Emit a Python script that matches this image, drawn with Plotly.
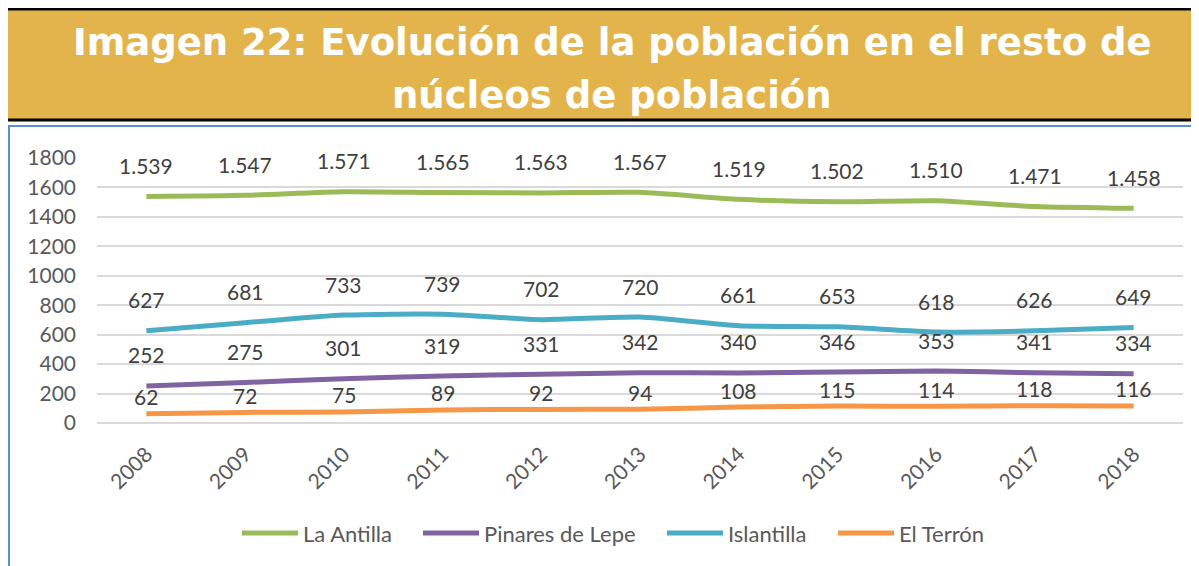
import plotly.graph_objects as go

years = ["2008", "2009", "2010", "2011", "2012", "2013", "2014", "2015", "2016", "2017", "2018"]
la_antilla = [1539, 1547, 1571, 1565, 1563, 1567, 1519, 1502, 1510, 1471, 1458]
pinares = [252, 275, 301, 319, 331, 342, 340, 346, 353, 341, 334]
islantilla = [627, 681, 733, 739, 702, 720, 661, 653, 618, 626, 649]
el_terron = [62, 72, 75, 89, 92, 94, 108, 115, 114, 118, 116]

series = [
    ("La Antilla", la_antilla, "#9BBB59", 31),
    ("Pinares de Lepe", pinares, "#8064A2", 31),
    ("Islantilla", islantilla, "#4BACC6", 31),
    ("El Terrón", el_terron, "#F79646", 17),
]
# x start of each legend entry (page pixels)
legend_x = [242, 423, 667, 838]

FONT = "Lato"
OFF = 8  # page body margin
W, H = 1199 - OFF, 566 - OFF
L, R, T, B = 97 - OFF, 16, 158 - OFF, 566 - 423
pw, ph = W - L - R, H - T - B


# page pixel -> paper coords
def px(x):
    return (x - OFF - L) / pw


def py(y):
    return (H - B - (y - OFF)) / ph


fig = go.Figure()

annotations = []
shapes = []
for (name, vals, color, shift), lx in zip(series, legend_x):
    fig.add_trace(go.Scatter(
        x=years, y=vals, name=name, mode="lines",
        line=dict(color=color, width=5, shape="spline", smoothing=0.6),
        hoverinfo="skip", showlegend=False,
    ))
    for i, v in enumerate(vals):
        annotations.append(dict(
            x=i, y=v, xref="x", yref="y", showarrow=False,
            text=f"{v:,}".replace(",", "."), yshift=shift,
            font=dict(family=FONT, size=21, color="#404040"),
        ))
    # legend entry
    shapes.append(dict(type="line", xref="paper", yref="paper",
                       x0=px(lx), x1=px(lx + 56), y0=py(533), y1=py(533),
                       line=dict(color=color, width=5)))
    annotations.append(dict(
        x=px(lx + 59), y=py(533), xref="paper", yref="paper", showarrow=False,
        xanchor="left", yanchor="middle", text=name,
        font=dict(family=FONT, size=22, color="#595959"),
    ))

# title
for txt, yy in [("Imagen 22: Evolución de la población en el resto de", 42),
                ("núcleos de población", 95)]:
    annotations.append(dict(
        x=px(612), y=py(yy), xref="paper", yref="paper", showarrow=False,
        xanchor="center", yanchor="middle",
        text=f"<b>{txt}</b>",
        font=dict(family="DejaVu Sans", size=37, color="white"),
    ))

shapes += [
    dict(type="rect", xref="paper", yref="paper", x0=px(4), x1=px(1205),
         y0=py(120), y1=py(10), fillcolor="#E3B44B", line=dict(width=0), layer="below"),
    dict(type="line", xref="paper", yref="paper", x0=px(4), x1=px(1205),
         y0=py(9), y1=py(9), line=dict(color="black", width=3)),
    dict(type="line", xref="paper", yref="paper", x0=px(4), x1=px(1205),
         y0=py(120), y1=py(120), line=dict(color="black", width=3)),
    dict(type="line", xref="paper", yref="paper", x0=px(8), x1=px(1205),
         y0=py(126), y1=py(126), line=dict(color="#5B8FD0", width=2)),
    dict(type="line", xref="paper", yref="paper", x0=px(9), x1=px(9),
         y0=py(126), y1=py(570), line=dict(color="#5B8FD0", width=2)),
]

fig.update_layout(
    width=W, height=H,
    margin=dict(l=L, r=R, t=T, b=B),
    paper_bgcolor="white", plot_bgcolor="white",
    showlegend=False,
    xaxis=dict(type="category", range=[-0.5, 10.5], showgrid=False, showline=False,
               tickangle=-45, ticklabelstandoff=14,
               tickfont=dict(family=FONT, size=21, color="#595959")),
    yaxis=dict(range=[0, 1800], dtick=200, showgrid=True, gridcolor="#D9D9D9", gridwidth=2,
               zeroline=True, zerolinecolor="#D9D9D9", zerolinewidth=2, showline=False,
               ticklabelstandoff=20,
               tickfont=dict(family=FONT, size=21, color="#595959")),
    annotations=annotations,
    shapes=shapes,
)

fig.write_html("out.html")
